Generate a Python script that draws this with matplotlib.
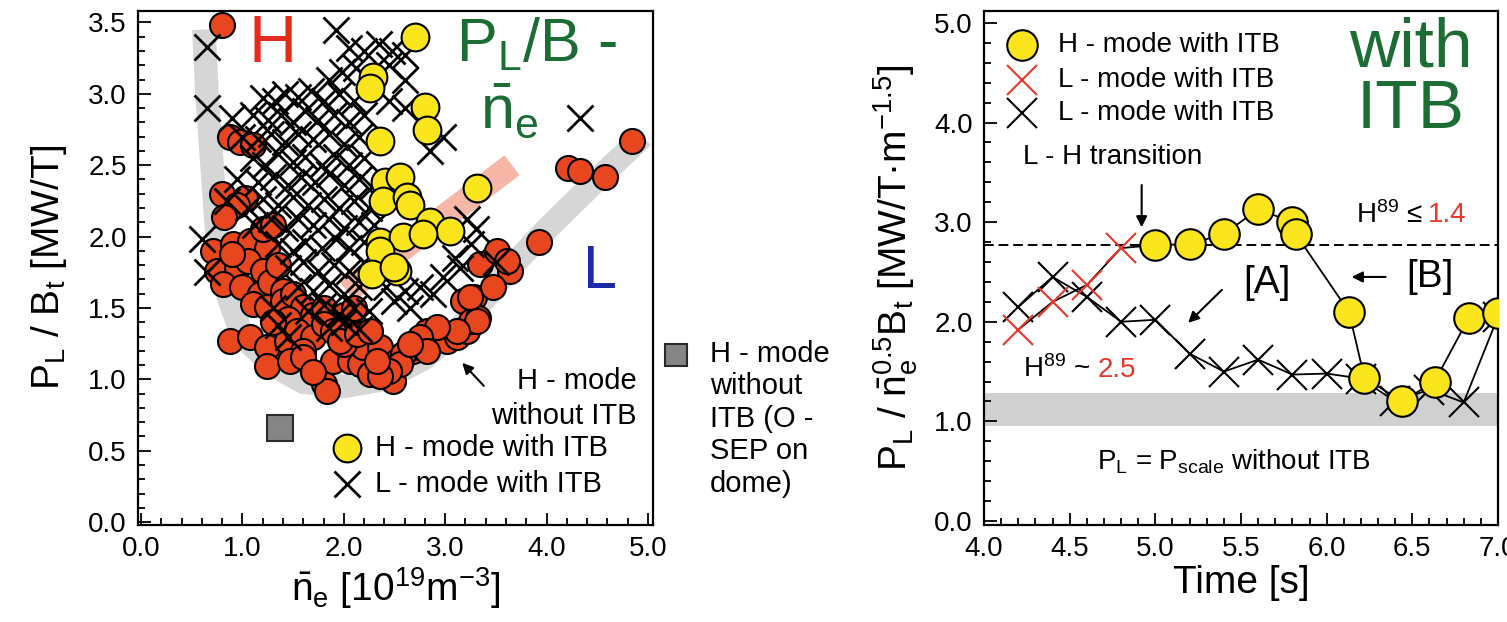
import matplotlib
matplotlib.use("Agg")
import matplotlib.pyplot as plt
from matplotlib.patches import Rectangle
from matplotlib.ticker import MultipleLocator, FormatStrFormatter

plt.rcParams["font.family"] = ["Liberation Sans", "DejaVu Sans"]
plt.rcParams["mathtext.fontset"] = "custom"
plt.rcParams["mathtext.rm"] = "Liberation Sans"
plt.rcParams["mathtext.it"] = "Liberation Sans"
plt.rcParams["mathtext.bf"] = "Liberation Sans:bold"
plt.rcParams["mathtext.default"] = "regular"

# ---- left panel: P_L/B_t versus line averaged density ----
hmode_ne = [0.80, 0.88, 0.98, 1.10, 0.80, 1.03, 0.95, 0.82,
            0.71, 0.91, 1.07, 1.24, 1.20, 1.30, 0.75, 0.95, 1.05, 1.20, 0.81, 1.00, 1.17, 1.27, 0.90, 1.35, 1.40,
            1.10, 1.24, 1.40, 1.50, 1.60, 1.45, 1.70, 1.80, 2.00, 2.10,
            0.88, 1.07, 1.24, 1.44, 1.54, 1.70, 1.80, 1.89, 1.30, 1.60,
            1.24, 1.47, 1.60, 1.80, 1.83, 1.89, 2.06, 2.16, 2.19, 2.36, 1.70, 2.00,
            1.96, 2.13, 2.26,
            2.26, 2.39, 2.49, 2.52, 2.58, 2.68, 2.75, 2.82, 2.92, 3.02, 3.12, 3.22, 3.18, 3.28, 3.25, 3.32,
            3.34, 3.64, 3.47, 3.24, 3.31, 3.12, 2.92, 2.75, 2.82, 2.58, 2.55, 2.45, 2.36, 2.33, 2.65,
            3.51, 3.61, 3.93, 4.21, 4.33, 4.58, 4.84]
hmode_pb = [3.48, 2.70, 2.66, 2.64, 2.30, 2.27, 2.22, 2.14,
            1.90, 1.95, 1.97, 1.92, 2.05, 2.08, 1.76, 1.78, 1.83, 1.76, 1.67, 1.65, 1.60, 1.68, 1.88, 1.80, 1.62,
            1.53, 1.51, 1.55, 1.60, 1.51, 1.42, 1.45, 1.50, 1.45, 1.50,
            1.27, 1.30, 1.23, 1.27, 1.34, 1.30, 1.39, 1.34, 1.40, 1.20,
            1.09, 1.13, 1.16, 0.97, 0.92, 1.13, 1.13, 1.11, 1.23, 1.23, 1.05, 1.25,
            1.27, 1.32, 1.34,
            1.04, 1.06, 0.99, 1.13, 1.16, 1.20, 1.23, 1.34, 1.34, 1.27, 1.30, 1.34, 1.55, 1.58, 1.41, 1.43,
            1.81, 1.76, 1.65, 1.58, 1.41, 1.34, 1.37, 1.30, 1.20, 1.18, 1.11, 1.06, 1.02, 1.13, 1.25,
            1.90, 1.83, 1.96, 2.48, 2.46, 2.42, 2.67]

hitb_ne = [2.70, 2.29, 2.26, 2.80, 2.82, 2.36, 2.41, 2.55, 2.39, 2.62, 2.65,
           3.31, 2.85, 3.05, 2.36, 2.58, 2.39, 2.52, 2.36, 2.78, 2.28, 2.50]
hitb_pb = [3.40, 3.12, 3.04, 2.91, 2.75, 2.67, 2.38, 2.42, 2.25, 2.28, 2.22,
           2.34, 2.10, 2.04, 1.96, 2.00, 1.81, 1.76, 1.90, 2.02, 1.74, 1.79]

litb_ne = [0.65, 1.92, 2.05, 2.20, 2.35, 2.48, 2.60,
           1.85, 1.98, 2.12, 2.25, 2.45, 2.60,
           1.20, 1.32, 1.42, 1.55, 1.68, 1.80, 1.95, 2.10, 2.45, 2.60,
           0.65, 1.10, 1.25, 1.38, 1.50, 1.62, 1.75, 1.90, 2.05, 2.20, 2.98, 0.90,
           1.00, 1.15, 1.28, 1.42, 1.55, 1.70, 1.85, 2.00, 2.15, 2.85,
           1.10, 1.22, 1.35, 1.50, 1.62, 1.78, 1.92, 2.05, 2.20,
           0.95, 1.15, 1.30, 1.45, 1.58, 1.72, 1.85, 2.00, 2.15, 2.28,
           0.85, 1.05, 1.20, 1.35, 1.50, 1.65, 1.80, 1.95, 2.10, 2.25,
           1.12, 1.28, 1.42, 1.55, 1.70, 1.85, 2.00, 2.15, 2.30, 3.22, 3.30,
           0.60, 1.35, 1.50, 1.62, 1.78, 1.92, 2.05, 2.20, 3.10, 3.25, 3.50,
           0.65, 1.45, 1.60, 1.75, 1.90, 2.05, 2.20, 2.98, 3.15,
           1.55, 1.70, 1.85, 2.00, 2.15, 2.42, 2.60, 2.75, 2.88,
           1.30, 1.65, 1.80, 1.95, 2.10, 2.25, 2.50, 2.65,
           1.35, 1.45, 1.85, 2.00, 2.15,
           4.33]
litb_pb = [3.33, 3.45, 3.32, 3.30, 3.35, 3.30, 3.27,
           3.10, 3.15, 3.18, 3.10, 3.20, 3.10,
           2.97, 2.95, 3.00, 2.98, 3.02, 2.95, 3.00, 2.95, 2.95, 2.90,
           2.90, 2.85, 2.82, 2.85, 2.80, 2.88, 2.82, 2.85, 2.80, 2.85, 2.70, 2.83,
           2.70, 2.68, 2.72, 2.66, 2.72, 2.68, 2.72, 2.65, 2.70, 2.60,
           2.55, 2.50, 2.58, 2.52, 2.56, 2.50, 2.56, 2.50, 2.55,
           2.40, 2.38, 2.42, 2.36, 2.42, 2.38, 2.44, 2.36, 2.40, 2.35,
           2.25, 2.20, 2.26, 2.22, 2.28, 2.22, 2.26, 2.20, 2.25, 2.20,
           2.08, 2.12, 2.06, 2.12, 2.08, 2.12, 2.06, 2.10, 2.08, 2.12, 2.05,
           1.98, 1.95, 1.90, 1.96, 1.92, 1.98, 1.92, 1.96, 1.85, 1.95, 1.82,
           1.75, 1.78, 1.82, 1.76, 1.80, 1.76, 1.82, 1.72, 1.78,
           1.65, 1.62, 1.66, 1.60, 1.65, 1.65, 1.62, 1.65, 1.60,
           1.50, 1.48, 1.52, 1.46, 1.50, 1.48, 1.55, 1.50,
           1.38, 1.30, 1.36, 1.40, 1.35,
           2.83]

osep_ne = [1.37]
osep_pb = [0.66]

# scaling guides drawn behind the points
guide_ne = [0.62, 0.65, 0.70, 0.75, 0.85, 1.00, 1.30, 1.60, 2.00, 2.40, 2.80, 3.20, 3.60, 4.00, 4.50, 4.95]
guide_pb = [3.45, 3.00, 2.50, 2.00, 1.60, 1.30, 1.10, 0.98, 0.95, 1.00, 1.15, 1.40, 1.75, 2.05, 2.40, 2.70]
itb_band_ne = [2.03, 3.66]
itb_band_pb = [1.62, 2.50]

# ---- right panel: time traces ----
t_lmode = [4.2, 4.4, 4.6, 4.8, 5.0, 5.2, 5.4, 5.6, 5.8, 6.0, 6.2, 6.4, 6.6, 6.8, 7.0]
p_lmode = [2.15, 2.45, 2.25, 2.00, 2.02, 1.68, 1.50, 1.62, 1.47, 1.48, 1.43, 1.20, 1.32, 1.19, 2.05]
t_lmode_red = [4.2, 4.4, 4.6, 4.8]
p_lmode_red = [1.92, 2.20, 2.37, 2.74]
t_hmode = [5.0, 5.2, 5.4, 5.6, 5.8, 5.82, 6.13, 6.22, 6.44, 6.63, 6.83, 7.0]
p_hmode = [2.77, 2.78, 2.88, 3.13, 3.00, 2.88, 2.10, 1.44, 1.20, 1.40, 2.04, 2.09]
h89_level = 2.77
pscale_band = (0.95, 1.28)

RED = "#e8461f"
YELLOW = "#fbe51c"
GREEN = "#1c6d34"

fig = plt.figure(figsize=(15.07, 6.22), dpi=100)
ax1 = fig.add_axes([0.0916, 0.156, 0.3417, 0.8263])
ax2 = fig.add_axes([0.6530, 0.156, 0.3410, 0.8263])

for ax in (ax1, ax2):
    for sp in ax.spines.values():
        sp.set_linewidth(1.6)
    ax.tick_params(which="both", direction="in", width=1.3, labelsize=20, pad=8)
    ax.tick_params(which="major", length=9)
    ax.tick_params(which="minor", length=5)
    ax.xaxis.set_major_formatter(FormatStrFormatter("%.1f"))
    ax.yaxis.set_major_formatter(FormatStrFormatter("%.1f"))

# left panel
ax1.plot(guide_ne, guide_pb, color="#d6d6d6", lw=17, solid_capstyle="butt", zorder=1)
ax1.plot(itb_band_ne, itb_band_pb, color="#f7b7a6", lw=18, solid_capstyle="butt", zorder=1)
ax1.plot(hmode_ne, hmode_pb, "o", ms=18, mfc=RED, mec="black", mew=1.5, zorder=2)
ax1.plot(litb_ne, litb_pb, "x", ms=19, mec="black", mew=2.0, zorder=3)
ax1.plot(hitb_ne, hitb_pb, "o", ms=20, mfc=YELLOW, mec="black", mew=1.5, zorder=4)
ax1.plot(osep_ne, osep_pb, "s", ms=19, mfc="#858585", mec="#2a2a2a", mew=1.5, zorder=4)

ax1.set_xlim(-0.03, 5.05)
ax1.set_ylim(-0.02, 3.58)
ax1.xaxis.set_major_locator(MultipleLocator(1.0))
ax1.xaxis.set_minor_locator(MultipleLocator(0.2))
ax1.yaxis.set_major_locator(MultipleLocator(0.5))
ax1.yaxis.set_minor_locator(MultipleLocator(0.1))
ax1.set_xlabel(r"$\bar{n}_e$ [10$^{19}$m$^{-3}$]", fontsize=28, labelpad=2)
ax1.set_ylabel(r"P$_L$ / B$_t$ [MW/T]", fontsize=28, labelpad=14)

ax1.text(1.30, 3.34, "H", color="#e52a1e", fontsize=48, ha="center", va="center")
ax1.text(3.90, 3.34, r"P$_L$/B -", color=GREEN, fontsize=44, ha="center", va="center")
ax1.text(3.63, 2.87, r"$\bar{n}_e$", color=GREEN, fontsize=44, ha="center", va="center")
ax1.text(4.53, 1.75, "L", color="#1a2aa8", fontsize=44, ha="center", va="center")
ax1.annotate("", xy=(3.15, 1.13), xytext=(3.40, 0.94),
             arrowprops=dict(arrowstyle="-|>", color="black", lw=1.5, mutation_scale=16))
ax1.text(4.89, 0.99, "H - mode", fontsize=21, ha="right", va="center")
ax1.text(4.89, 0.74, "without ITB", fontsize=21, ha="right", va="center")
ax1.plot([2.03], [0.52], "o", ms=20, mfc=YELLOW, mec="black", mew=1.5)
ax1.plot([2.03], [0.27], "x", ms=19, mec="black", mew=2.0)
ax1.text(2.31, 0.52, "H - mode with ITB", fontsize=21, ha="left", va="center")
ax1.text(2.31, 0.27, "L - mode with ITB", fontsize=21, ha="left", va="center")

# legend entry for the O-SEP square, outside the left panel
fig.add_artist(Rectangle((665 / 1507, 1 - 366 / 622), 22 / 1507, 22 / 622,
                         transform=fig.transFigure, facecolor="#858585",
                         edgecolor="#2a2a2a", lw=1.5))
fig.text(710 / 1507, 1 - 340 / 622, "H - mode\nwithout\nITB (O -\nSEP on\ndome)",
         fontsize=21, ha="left", va="top", linespacing=1.2)

# right panel
ax2.axhspan(*pscale_band, color="#d0d0d0", lw=0, zorder=0)
ax2.axhline(h89_level, color="black", lw=1.4, ls=(0, (5, 2.5)), zorder=1)
ax2.plot(t_lmode, p_lmode, "-", color="black", lw=1.3, zorder=2)
ax2.plot(t_lmode_red + t_hmode, p_lmode_red + p_hmode, "-", color="black", lw=1.3, zorder=2)
ax2.plot(t_lmode, p_lmode, "x", ms=21, mec="black", mew=1.5, zorder=3)
ax2.plot(t_lmode_red, p_lmode_red, "x", ms=21, mec="#e8382a", mew=1.5, zorder=3)
ax2.plot(t_hmode, p_hmode, "o", ms=22, mfc=YELLOW, mec="black", mew=1.5, zorder=4)

ax2.set_xlim(4.0, 7.0)
ax2.set_ylim(-0.04, 5.12)
ax2.xaxis.set_major_locator(MultipleLocator(0.5))
ax2.xaxis.set_minor_locator(MultipleLocator(0.1))
ax2.yaxis.set_major_locator(MultipleLocator(1.0))
ax2.yaxis.set_minor_locator(MultipleLocator(0.2))
ax2.set_xlabel("Time [s]", fontsize=28, labelpad=2)
ax2.set_ylabel(r"P$_L$ / $\bar{n}_e^{0.5}$B$_t$ [MW/T·m$^{-1.5}$]", fontsize=28, labelpad=10)

ax2.plot([4.22], [4.78], "o", ms=22, mfc=YELLOW, mec="black", mew=1.5, clip_on=False)
ax2.plot([4.22], [4.43], "x", ms=21, mec="#e8382a", mew=1.5)
ax2.plot([4.22], [4.10], "x", ms=21, mec="black", mew=1.5)
ax2.text(4.43, 4.78, "H - mode with ITB", fontsize=20, ha="left", va="center")
ax2.text(4.43, 4.43, "L - mode with ITB", fontsize=20, ha="left", va="center")
ax2.text(4.43, 4.10, "L - mode with ITB", fontsize=20, ha="left", va="center")
ax2.text(4.75, 3.65, "L - H transition", fontsize=20, ha="center", va="center")
ax2.annotate("", xy=(4.92, 2.92), xytext=(4.92, 3.40),
             arrowprops=dict(arrowstyle="-|>", color="black", lw=1.5, mutation_scale=16))
ax2.text(6.49, 4.43, "with\nITB", color=GREEN, fontsize=50, ha="center", va="center",
         linespacing=0.95)
ax2.text(6.56, 3.07, r"H$^{89}$ ≤", fontsize=20, ha="right", va="center")
ax2.text(6.59, 3.07, "1.4", color="#e8382a", fontsize=20, ha="left", va="center")
ax2.text(5.65, 2.39, "[A]", fontsize=28, ha="center", va="center")
ax2.annotate("", xy=(5.18, 1.97), xytext=(5.40, 2.34),
             arrowprops=dict(arrowstyle="-|>", color="black", lw=1.5, mutation_scale=16))
ax2.text(6.60, 2.45, "[B]", fontsize=28, ha="center", va="center")
ax2.annotate("", xy=(6.13, 2.45), xytext=(6.36, 2.45),
             arrowprops=dict(arrowstyle="-|>", color="black", lw=1.5, mutation_scale=16))
ax2.text(4.62, 1.52, r"H$^{89}$ ~", fontsize=20, ha="right", va="center")
ax2.text(4.66, 1.52, "2.5", color="#e8382a", fontsize=20, ha="left", va="center")
ax2.text(5.46, 0.59, r"P$_L$ = P$_{scale}$ without ITB", fontsize=20, ha="center", va="center")

fig.savefig("out.png", dpi=100)
